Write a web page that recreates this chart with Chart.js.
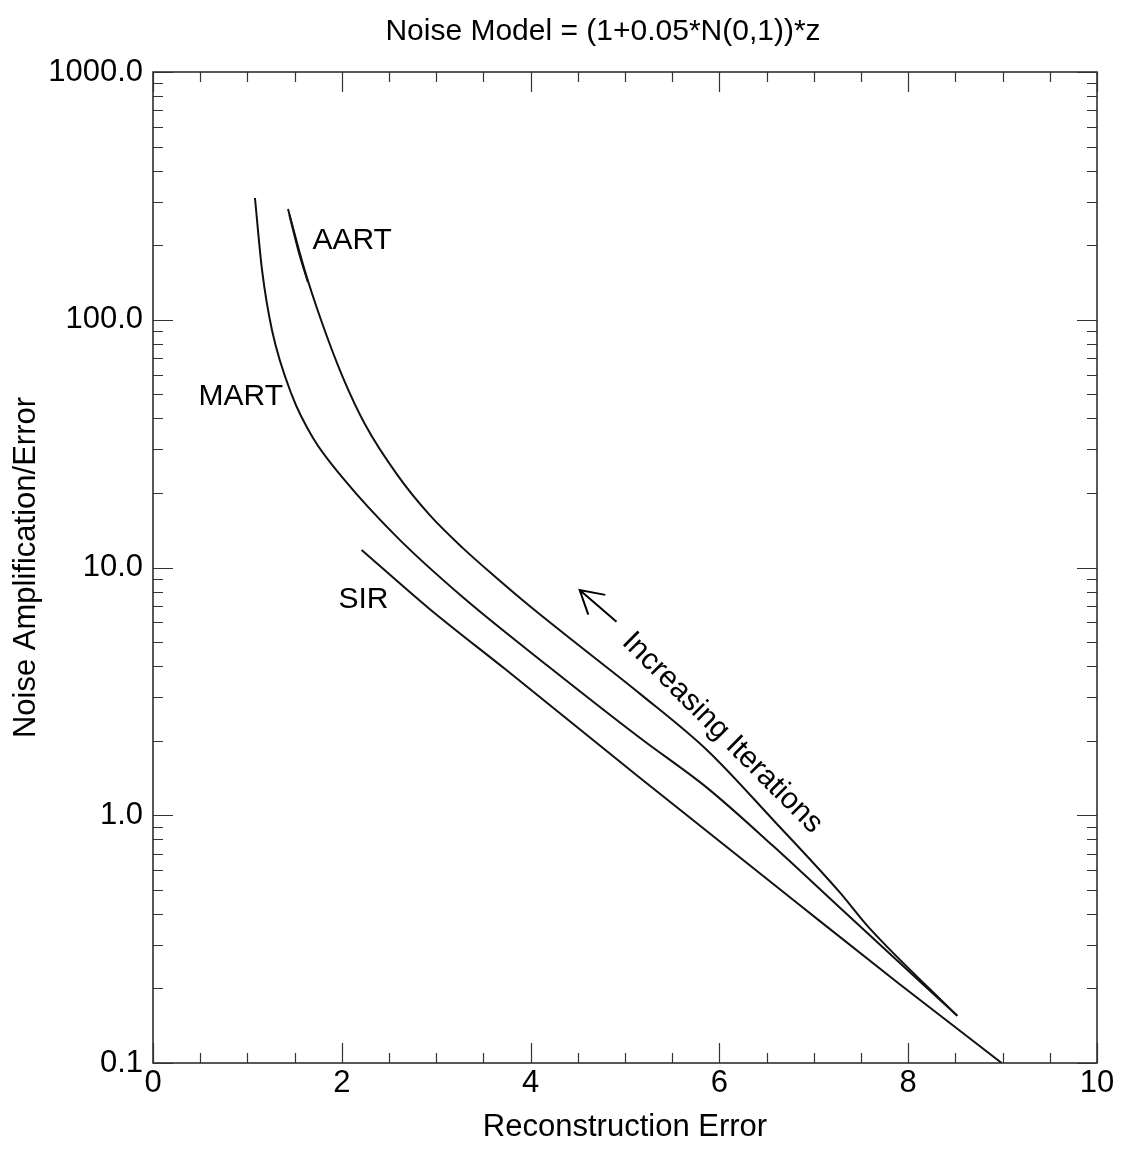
<!DOCTYPE html>
<html>
<head>
<meta charset="utf-8">
<script src="https://cdn.jsdelivr.net/npm/chart.js@4.4.1/dist/chart.umd.min.js"></script>
<style>
  html, body { margin: 0; padding: 0; background: #fff; }
  #wrap { width: 1128px; height: 1154px; }
</style>
</head>
<body>
<div id="wrap"><canvas id="noiseChart"></canvas></div>
<script>
// tick labels
var xTicks = [0, 2, 4, 6, 8, 10];
var yTicks = [0.1, 1, 10, 100, 1000];

// MART curve
var martX = [1.08, 1.155, 1.26, 1.47, 1.695, 2.01, 2.59, 3.28, 4.21, 5.16, 5.87, 6.57, 7.28, 8.52];
var martY = [310, 158.8, 90.9, 49.7, 33.3, 23.0, 13.2, 7.60, 3.93, 2.05, 1.29, 0.751, 0.422, 0.155];

// AART curve
var aartX = [1.43, 1.60, 1.78, 2.01, 2.25, 2.59, 2.93, 3.28, 3.64, 3.99, 4.52, 5.16, 5.87, 6.57, 7.28, 7.57, 8.52];
var aartY = [280, 161.8, 99.8, 58.7, 37.6, 23.6, 16.3, 12.0, 9.07, 6.99, 4.82, 3.09, 1.83, 0.957, 0.486, 0.357, 0.155];
// short doubled trace at the start of AART
var aartTopX = [1.445, 1.54, 1.64];
var aartTopY = [265, 190, 142];

// SIR curve
var sirX = [2.21, 2.93, 3.73, 5.16, 6.85, 7.91, 8.99];
var sirY = [11.77, 6.80, 3.89, 1.414, 0.434, 0.208, 0.100];

// text labels inside the plot (data coordinates)
var notes = [
  { text: 'AART', x: 2.11, y: 208, angle: 0 },
  { text: 'MART', x: 0.93, y: 48.7, angle: 0 },
  { text: 'SIR', x: 2.23, y: 7.39, angle: 0 },
  { text: 'Increasing Iterations', x: 6.03, y: 2.15, angle: 45 }
];
// arrow from tail to tip
var arrowFrom = { x: 4.91, y: 6.04 };
var arrowTo = { x: 4.52, y: 8.11 };

var chartTitle = 'Noise Model = (1+0.05*N(0,1))*z';

function toPoints(xs, ys) {
  return xs.map(function (v, i) { return { x: v, y: ys[i] }; });
}

var fontFamily = "'Liberation Sans', Arial, Helvetica, sans-serif";

var frameAndNotes = {
  id: 'frameAndNotes',
  afterDatasetsDraw: function (chart) {
    var ctx = chart.ctx, a = chart.chartArea;
    var xs = chart.scales.x, ys = chart.scales.y;
    ctx.save();
    ctx.strokeStyle = '#222';
    ctx.lineWidth = 1.5;
    ctx.strokeRect(a.left, a.top, a.right - a.left, a.bottom - a.top);

    // inward ticks, mirrored on all sides
    ctx.lineWidth = 1.2;
    ctx.strokeStyle = '#333';
    ctx.beginPath();
    for (var k = 0; k <= 20; k++) {
      var v = k * 0.5;
      var px = Math.round(xs.getPixelForValue(v)) + 0.5;
      var len = (k % 4 === 0) ? 20 : 10;
      ctx.moveTo(px, a.bottom); ctx.lineTo(px, a.bottom - len);
      ctx.moveTo(px, a.top); ctx.lineTo(px, a.top + len);
    }
    var decades = [0.1, 1, 10, 100];
    decades.forEach(function (d) {
      for (var m = 1; m <= 9; m++) {
        var py = Math.round(ys.getPixelForValue(d * m)) + 0.5;
        var l = m === 1 ? 20 : 10;
        ctx.moveTo(a.left, py); ctx.lineTo(a.left + l, py);
        ctx.moveTo(a.right, py); ctx.lineTo(a.right - l, py);
      }
    });
    var pt = Math.round(ys.getPixelForValue(1000)) + 0.5;
    ctx.moveTo(a.left, pt); ctx.lineTo(a.left + 20, pt);
    ctx.moveTo(a.right, pt); ctx.lineTo(a.right - 20, pt);
    ctx.stroke();

    // title
    ctx.fillStyle = '#000';
    ctx.textAlign = 'center';
    ctx.textBaseline = 'middle';
    ctx.font = '30px ' + fontFamily;
    ctx.fillText(chartTitle, 603, 32);

    // text notes
    notes.forEach(function (n) {
      ctx.save();
      ctx.translate(xs.getPixelForValue(n.x), ys.getPixelForValue(n.y));
      ctx.rotate(n.angle * Math.PI / 180);
      ctx.fillText(n.text, 0, 0);
      ctx.restore();
    });

    // arrow
    var x0 = xs.getPixelForValue(arrowFrom.x), y0 = ys.getPixelForValue(arrowFrom.y);
    var x1 = xs.getPixelForValue(arrowTo.x), y1 = ys.getPixelForValue(arrowTo.y);
    var ang = Math.atan2(y0 - y1, x0 - x1);
    var head = 26, spread = Math.PI / 6;
    ctx.strokeStyle = '#000';
    ctx.lineWidth = 2;
    ctx.beginPath();
    ctx.moveTo(x0, y0); ctx.lineTo(x1, y1);
    ctx.moveTo(x1 + head * Math.cos(ang - spread), y1 + head * Math.sin(ang - spread));
    ctx.lineTo(x1, y1);
    ctx.lineTo(x1 + head * Math.cos(ang + spread), y1 + head * Math.sin(ang + spread));
    ctx.stroke();
    ctx.restore();
  }
};

var lineStyle = {
  borderColor: '#111',
  borderWidth: 2,
  pointRadius: 0,
  fill: false,
  cubicInterpolationMode: 'monotone'
};

var ctx = document.getElementById('noiseChart').getContext('2d');
var myChart = new Chart(ctx, {
  type: 'line',
  data: {
    datasets: [
      Object.assign({ label: 'MART', data: toPoints(martX, martY) }, lineStyle),
      Object.assign({ label: 'AART', data: toPoints(aartX, aartY) }, lineStyle),
      Object.assign({ label: 'AART start', data: toPoints(aartTopX, aartTopY) }, lineStyle),
      Object.assign({ label: 'SIR', data: toPoints(sirX, sirY) }, lineStyle)
    ]
  },
  options: {
    responsive: true,
    maintainAspectRatio: false,
    animation: false,
    layout: { padding: { left: 0, right: 31, top: 72, bottom: 0 } },
    plugins: {
      legend: { display: false },
      tooltip: { enabled: false },
      title: { display: false }
    },
    scales: {
      x: {
        type: 'linear',
        min: 0,
        max: 10,
        afterBuildTicks: function (scale) {
          scale.ticks = xTicks.map(function (v) { return { value: v }; });
        },
        afterFit: function (scale) { scale.height = 91; },
        grid: { display: false, drawTicks: false },
        border: { display: false },
        ticks: {
          color: '#000',
          padding: 2,
          maxRotation: 0,
          font: { family: fontFamily, size: 31 },
          callback: function (v) { return String(v); }
        },
        title: {
          display: true,
          text: 'Reconstruction Error',
          color: '#000',
          font: { family: fontFamily, size: 31 },
          padding: { top: 0, bottom: 8 }
        }
      },
      y: {
        type: 'logarithmic',
        min: 0.1,
        max: 1000,
        afterBuildTicks: function (scale) {
          scale.ticks = yTicks.map(function (v) { return { value: v }; });
        },
        afterFit: function (scale) { scale.width = 153; },
        grid: { display: false, drawTicks: false },
        border: { display: false },
        ticks: {
          color: '#000',
          padding: 10,
          font: { family: fontFamily, size: 31 },
          callback: function (v) { return Number(v).toFixed(1); }
        },
        title: {
          display: true,
          text: 'Noise Amplification/Error',
          color: '#000',
          font: { family: fontFamily, size: 31 },
          padding: { top: 8, bottom: 0 }
        }
      }
    }
  },
  plugins: [frameAndNotes]
});
</script>
</body>
</html>
